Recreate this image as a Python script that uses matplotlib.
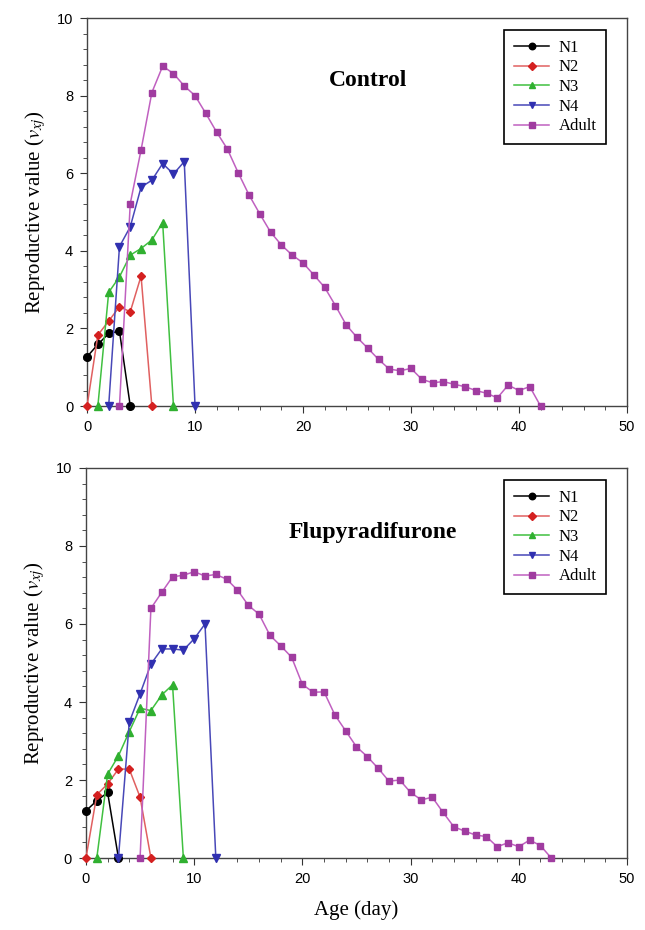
import numpy as np
import matplotlib.pyplot as plt
from matplotlib.ticker import MultipleLocator

# Datos: valor reproductivo por estadio y edad
# --- Control ---
c_n1_x = [0, 1, 2, 3, 4]
c_n1_y = [1.27, 1.59, 1.87, 1.93, 0]
c_n2_x = [0, 1, 2, 3, 4, 5, 6]
c_n2_y = [0, 1.83, 2.19, 2.56, 2.43, 3.35, 0]
c_n3_x = [1, 2, 3, 4, 5, 6, 7, 8]
c_n3_y = [0, 2.93, 3.33, 3.89, 4.06, 4.28, 4.73, 0]
c_n4_x = [2, 3, 4, 5, 6, 7, 8, 9, 10]
c_n4_y = [0, 4.11, 4.62, 5.64, 5.82, 6.25, 5.98, 6.30, 0]
c_ad_x = list(range(3, 43))
c_ad_y = [0, 5.22, 6.60, 8.08, 8.76, 8.57, 8.25, 8.00, 7.54, 7.06,
          6.62, 6.01, 5.44, 4.95, 4.48, 4.15, 3.89, 3.69, 3.38, 3.06,
          2.59, 2.09, 1.77, 1.49, 1.20, 0.95, 0.91, 0.97, 0.69, 0.60,
          0.63, 0.56, 0.50, 0.40, 0.33, 0.21, 0.54, 0.40, 0.50, 0]

# --- Flupyradifurone ---
f_n1_x = [0, 1, 2, 3]
f_n1_y = [1.21, 1.47, 1.68, 0]
f_n2_x = [0, 1, 2, 3, 4, 5, 6]
f_n2_y = [0, 1.62, 1.90, 2.28, 2.28, 1.56, 0]
f_n3_x = [1, 2, 3, 4, 5, 6, 7, 8, 9]
f_n3_y = [0, 2.15, 2.62, 3.24, 3.84, 3.78, 4.18, 4.44, 0]
f_n4_x = [3, 4, 5, 6, 7, 8, 9, 10, 11, 12]
f_n4_y = [0, 3.48, 4.21, 4.97, 5.36, 5.36, 5.33, 5.62, 6.00, 0]
f_ad_x = list(range(5, 44))
f_ad_y = [0, 6.40, 6.81, 7.21, 7.25, 7.34, 7.23, 7.27, 7.15, 6.87,
          6.48, 6.25, 5.71, 5.44, 5.15, 4.45, 4.25, 4.26, 3.67, 3.26,
          2.85, 2.60, 2.30, 1.97, 2.00, 1.68, 1.49, 1.56, 1.17, 0.80,
          0.69, 0.59, 0.55, 0.29, 0.39, 0.29, 0.46, 0.32, 0]

etiquetas = ["N1", "N2", "N3", "N4", "Adult"]
marcadores = ["o", "D", "^", "v", "s"]
tam_marc = [5.5, 4.5, 5.5, 5.5, 4.8]
col_linea = ["#000000", "#e06060", "#40c040", "#4848b8", "#c060c0"]
col_marc = ["#000000", "#d42020", "#30b030", "#3030b0", "#a03ca0"]

controles = [(c_n1_x, c_n1_y), (c_n2_x, c_n2_y), (c_n3_x, c_n3_y),
             (c_n4_x, c_n4_y), (c_ad_x, c_ad_y)]
tratados = [(f_n1_x, f_n1_y), (f_n2_x, f_n2_y), (f_n3_x, f_n3_y),
            (f_n4_x, f_n4_y), (f_ad_x, f_ad_y)]

serif = ["Liberation Serif", "DejaVu Serif"]
plt.rcParams['font.family'] = ["Liberation Sans", "DejaVu Sans"]
plt.rcParams['mathtext.fontset'] = 'stix'

fig = plt.figure(figsize=(6.45, 9.3), dpi=100)
ax1 = fig.add_axes([0.135, 0.5634, 0.837, 0.4172])
ax2 = fig.add_axes([0.1333, 0.0774, 0.8388, 0.4194])


def dibujar(ax, series, titulo, tx, ty):
    for (x, y), lab, m, ms, cl, cm in zip(series, etiquetas, marcadores,
                                          tam_marc, col_linea, col_marc):
        ax.plot(x, y, color=cl, lw=1.1, marker=m, ms=ms, mfc=cm, mec=cm,
                label=lab, clip_on=False, zorder=3)
    ax.set_xlim(0, 50)
    ax.set_ylim(0, 10)
    ax.xaxis.set_major_locator(MultipleLocator(10))
    ax.xaxis.set_minor_locator(MultipleLocator(2))
    ax.yaxis.set_major_locator(MultipleLocator(2))
    ax.yaxis.set_minor_locator(MultipleLocator(0.4))
    ax.tick_params(which='both', direction='out', top=False, right=False,
                   labelsize=10.5, color="#333333")
    ax.tick_params(which='major', length=5, pad=5)
    ax.tick_params(which='minor', length=3)
    for s in ax.spines.values():
        s.set_color("#444444")
        s.set_linewidth(1.0)
    ax.set_ylabel(r"Reproductive value ($v_{xj}$)", family=serif,
                  fontsize=15, labelpad=6)
    ax.text(tx, ty, titulo, transform=ax.transAxes, family=serif,
            fontsize=17, fontweight='bold', ha='center', va='center')
    leg = ax.legend(loc='upper right', bbox_to_anchor=(0.962, 0.97),
                    borderaxespad=0, fancybox=False, edgecolor='black',
                    framealpha=1, prop={'family': serif, 'size': 12},
                    handlelength=2.1, handletextpad=0.55, markerscale=0.85,
                    labelspacing=0.22, borderpad=0.6)
    leg.get_frame().set_linewidth(1.2)


dibujar(ax1, controles, "Control", 0.52, 0.84)
dibujar(ax2, tratados, "Flupyradifurone", 0.53, 0.835)
ax2.set_xlabel("Age (day)", family=serif, fontsize=15, labelpad=10)

fig.savefig("out.png", dpi=100)
